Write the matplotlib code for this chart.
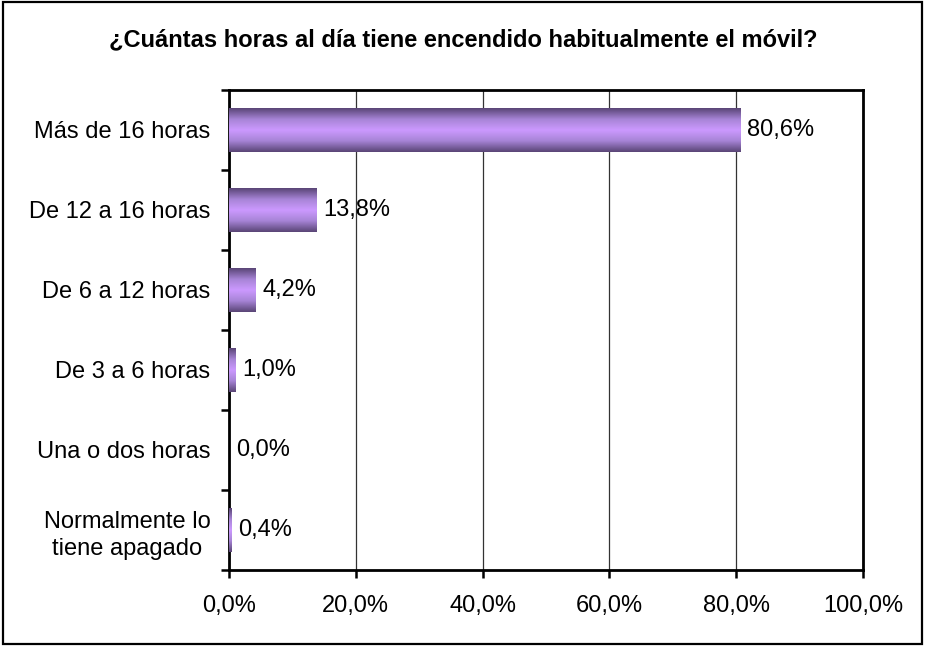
import numpy as np
import matplotlib.pyplot as plt
from matplotlib.colors import LinearSegmentedColormap
from matplotlib.patches import Rectangle

# -----------------------------
# Data
# -----------------------------

categories = ["Más de 16 horas", "De 12 a 16 horas", "De 6 a 12 horas",
              "De 3 a 6 horas", "Una o dos horas", "Normalmente lo\ntiene apagado"]
values = [80.6, 13.8, 4.2, 1.0, 0.0, 0.4]
value_labels = ["80,6%", "13,8%", "4,2%", "1,0%", "0,0%", "0,4%"]
xticks = [0, 20, 40, 60, 80, 100]
xtick_labels = ["0,0%", "20,0%", "40,0%", "60,0%", "80,0%", "100,0%"]
title = "¿Cuántas horas al día tiene encendido habitualmente el móvil?"

plt.rcParams['font.family'] = ['Liberation Sans', 'DejaVu Sans']
FS = 17

W, H = 926, 646
fig = plt.figure(figsize=(W / 100, H / 100), dpi=100)

# outer frame
fig.patches.append(Rectangle((3 / W, 2 / H), 919 / W, 642 / H, transform=fig.transFigure,
                             fill=False, edgecolor='black', linewidth=1.6))

ax = fig.add_axes([229 / W, 1 - 570 / H, 634 / W, 480 / H])

n = len(categories)
ypos = np.arange(n)
bars = ax.barh(ypos, values, height=0.54, color='none', edgecolor='none', zorder=3)

# gradient fill for each bar (dark edges, light centre)
cmap = LinearSegmentedColormap.from_list("purp", ["#5a4677", "#a784d6", "#cc99ff", "#a784d6", "#5a4677"])
grad = np.linspace(0, 1, 64).reshape(-1, 1)
for b in bars:
    x0, y0 = b.get_x(), b.get_y()
    w, h = b.get_width(), b.get_height()
    if w <= 0:
        continue
    ax.imshow(grad, cmap=cmap, aspect='auto', extent=[x0, x0 + w, y0 + h, y0],
              zorder=3, interpolation='bicubic')

for yv, v, lab in zip(ypos, values, value_labels):
    ax.annotate(lab, (v, yv), xytext=(5, 0), textcoords='offset points',
                va='center', ha='left', fontsize=FS, zorder=4)

ax.set_xlim(0, 100)
ax.set_ylim(n - 0.5, -0.5)
ax.set_xticks(xticks)
ax.set_xticklabels(xtick_labels, fontsize=FS)
ax.set_yticks(ypos)
ax.set_yticklabels(categories, fontsize=FS, linespacing=1.3, multialignment='center')
ax.tick_params(axis='y', which='major', length=0, pad=13.5)
ax.set_yticks(np.arange(n + 1) - 0.5, minor=True)
ax.tick_params(axis='y', which='minor', length=6, width=1.8, direction='out')
ax.tick_params(axis='x', length=6, width=1.8, direction='out', pad=12)

ax.grid(axis='x', color='#333333', linewidth=0.9, zorder=0)
ax.set_axisbelow(True)
for s in ax.spines.values():
    s.set_linewidth(2)
    s.set_color('black')

fig.text(0.5, 1 - 40 / H, title, ha='center', va='center', fontsize=FS, fontweight='bold')

fig.savefig("out.png", dpi=100)
